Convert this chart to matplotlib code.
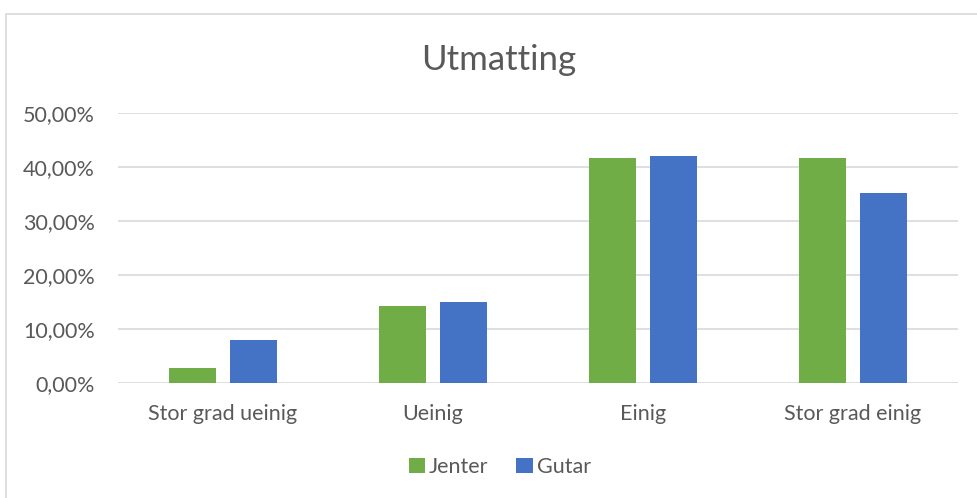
import matplotlib

matplotlib.use("Agg")
import matplotlib.pyplot as plt
import numpy as np
from matplotlib.patches import Rectangle

categories = ["Stor grad ueinig", "Ueinig", "Einig", "Stor grad einig"]
jenter = [2.8, 14.2, 41.6, 41.6]
gutar = [8.0, 15.0, 42.1, 35.1]
series_names = ["Jenter", "Gutar"]
yticks = [0, 10, 20, 30, 40, 50]

GREEN = "#70AD47"
BLUE = "#4472C4"
TEXT = "#595959"
GRID = "#D9D9D9"

plt.rcParams["font.family"] = ["Lato", "DejaVu Sans"]

fig = plt.figure(figsize=(9.78, 4.98), dpi=100)
fig.patches.append(Rectangle((6 / 978, -0.1), 1.2, 1 - 14 / 498 + 0.1, transform=fig.transFigure,
                             fill=False, edgecolor=GRID, linewidth=1.2))

ax = fig.add_axes([118 / 978, 1 - 383 / 498, 840 / 978, 270 / 498])
x = np.arange(len(categories))
width = 0.224
off = 0.143
ax.bar(x - off, jenter, width, color=GREEN, label=series_names[0], zorder=3)
ax.bar(x + off, gutar, width, color=BLUE, label=series_names[1], zorder=3)

ax.set_xlim(-0.5, len(categories) - 0.5)
ax.set_ylim(0, 50)
ax.set_yticks(yticks)
ax.set_yticklabels([f"{v:.2f}%".replace(".", ",") for v in yticks])
ax.set_xticks(x)
ax.set_xticklabels(categories)
ax.grid(axis="y", color=GRID, linewidth=1.2, zorder=0)
for s in ax.spines.values():
    s.set_visible(False)
ax.tick_params(length=0, colors=TEXT, labelsize=15.5)
ax.tick_params(axis="y", pad=16.5)
ax.tick_params(axis="x", pad=15)

fig.text(0.51, 1 - 60 / 498, "Utmatting", ha="center", va="center", fontsize=25, color=TEXT)
fig.legend(loc="center", bbox_to_anchor=(0.511, 1 - 467 / 498), ncol=2, frameon=False,
           fontsize=15.5, labelcolor=TEXT, handlelength=0.75, handleheight=0.75,
           handletextpad=0.2, columnspacing=1.3)

fig.savefig("out.png", dpi=100)
